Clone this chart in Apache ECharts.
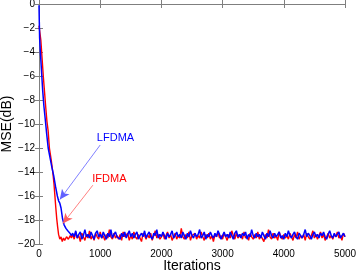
<!DOCTYPE html>
<html>
<head>
<meta charset="utf-8">
<script src="https://cdn.jsdelivr.net/npm/echarts@6/dist/echarts.min.js"></script>
<style>
  html, body { margin: 0; padding: 0; background: #fff; }
  #chart { width: 356px; height: 272px; }
</style>
</head>
<body>
<div id="chart"></div>
<script>
// IFDMA (red) - transient part
var ifdmaIter = [0, 15, 30, 50, 70, 90, 110, 130, 150, 170, 200, 225, 245, 260, 275, 290, 305, 320, 340, 360, 380, 400, 420, 450, 480, 510, 530];
var ifdmaMse = [-1.8, -1.9, -3.0, -4.5, -6.0, -7.3, -8.6, -9.8, -10.6, -12.0, -13.0, -14.0, -15.0, -16.0, -17.0, -17.9, -18.6, -19.2, -19.6, -19.4, -19.8, -19.5, -19.7, -19.4, -19.6, -19.3, -19.5];
// IFDMA steady state, every 25 iterations from 550 to 5000
var ifdmaFlat = [
  -19.2,-19.6,-19.0,-19.5,-19.3,-19.8,-19.1,-19.4,-19.7,-19.2,
  -19.5,-18.9,-19.6,-19.3,-19.7,-19.1,-19.4,-19.6,-19.0,-19.5,
  -19.3,-19.7,-19.2,-19.5,-18.8,-19.4,-19.6,-19.1,-19.5,-19.3,
  -19.6,-19.2,-19.7,-19.0,-19.4,-19.5,-19.1,-19.7,-19.3,-19.6,
  -19.0,-19.4,-19.6,-19.2,-19.5,-19.8,-19.1,-19.3,-19.6,-19.2,
  -19.5,-19.1,-19.7,-19.3,-18.9,-19.5,-19.2,-19.6,-19.4,-19.1,
  -19.6,-19.3,-19.0,-19.5,-19.2,-19.7,-19.4,-19.1,-19.6,-19.3,
  -19.5,-18.7,-19.4,-19.6,-19.2,-19.5,-19.0,-19.7,-19.3,-19.4,
  -19.1,-19.6,-19.3,-19.5,-19.0,-19.4,-19.7,-19.2,-19.5,-19.1,
  -19.6,-19.3,-19.8,-19.2,-19.4,-19.0,-19.5,-19.3,-19.6,-19.1,
  -19.4,-19.7,-19.2,-19.5,-18.9,-19.3,-19.6,-19.1,-19.5,-19.4,
  -19.2,-19.6,-19.0,-19.5,-19.3,-19.7,-19.1,-19.4,-19.6,-19.2,
  -19.5,-19.0,-19.6,-19.3,-19.4,-19.8,-19.2,-19.5,-18.8,-19.4,
  -19.6,-19.1,-19.5,-19.3,-19.7,-19.0,-19.4,-19.6,-19.2,-19.5,
  -19.3,-19.6,-19.1,-19.4,-19.7,-19.2,-19.5,-19.0,-19.6,-19.3,
  -19.5,-19.2,-19.7,-19.1,-19.4,-19.6,-19.3,-18.9,-19.5,-19.2,
  -19.6,-19.3,-19.0,-19.5,-19.2,-19.7,-19.4,-19.1,-19.5,-19.3,
  -19.6,-19.2,-19.4,-19.0,-19.5,-19.3,-19.7,-19.1,-19.4
];
// LFDMA (blue) - transient part
var lfdmaIter = [0, 5, 10, 20, 40, 60, 80, 100, 125, 150, 180, 210, 240, 270, 300, 320, 340, 360, 385, 410, 440, 470, 505, 530];
var lfdmaMse = [-0.1, -1.5, -2.8, -3.8, -5.5, -7.2, -8.5, -9.5, -10.8, -12.0, -12.8, -13.6, -14.3, -15.2, -16.0, -16.4, -16.6, -17.0, -17.9, -18.4, -18.7, -18.9, -19.1, -19.3];
var lfdmaFlat = [
  -19.1,-19.4,-18.9,-19.5,-19.2,-19.0,-19.6,-19.3,-18.8,-19.4,
  -19.2,-19.5,-19.0,-19.3,-19.6,-19.1,-18.9,-19.4,-19.2,-19.5,
  -19.0,-19.3,-19.6,-19.1,-19.4,-18.8,-19.5,-19.2,-19.0,-19.4,
  -19.3,-19.6,-19.1,-19.4,-19.0,-19.5,-19.2,-18.9,-19.4,-19.1,
  -19.5,-19.2,-19.0,-19.6,-19.3,-19.1,-19.4,-18.9,-19.5,-19.2,
  -19.0,-19.4,-19.6,-19.1,-19.3,-18.8,-19.5,-19.2,-19.4,-19.0,
  -19.3,-19.6,-19.1,-19.4,-19.2,-18.9,-19.5,-19.3,-19.0,-19.4,
  -19.2,-19.5,-19.0,-19.3,-19.6,-19.1,-19.4,-18.9,-19.3,-19.5,
  -19.1,-19.4,-19.2,-18.8,-19.5,-19.3,-19.0,-19.6,-19.2,-19.4,
  -19.0,-19.3,-19.5,-19.1,-19.4,-18.9,-19.2,-19.6,-19.3,-19.0,
  -19.4,-19.2,-19.5,-19.0,-19.3,-19.6,-19.1,-18.9,-19.4,-19.2,
  -19.5,-19.1,-19.3,-19.0,-19.6,-19.2,-19.4,-18.8,-19.3,-19.5,
  -19.1,-19.4,-19.2,-19.5,-19.0,-19.3,-19.6,-19.1,-19.4,-18.9,
  -19.3,-19.5,-19.1,-19.4,-19.2,-19.0,-19.5,-19.3,-19.6,-19.1,
  -19.4,-18.9,-19.3,-19.5,-19.2,-19.0,-19.4,-19.6,-19.1,-19.3,
  -19.5,-19.2,-18.8,-19.4,-19.1,-19.3,-19.6,-19.2,-19.0,-19.4,
  -19.2,-19.5,-19.1,-19.3,-19.0,-19.4,-19.6,-19.2,-18.9,-19.3,
  -19.5,-19.1,-19.4,-19.2,-19.0,-19.5,-19.3,-19.1,-19.4
];
var flatStart = 550, flatStep = 25;

// annotations: label position, arrow start, arrow tip
var lfdmaLabel = [1250, -11.2], lfdmaArrow = [[1000, -11.75], [340, -16.3]];
var ifdmaLabel = [1150, -14.6], ifdmaArrow = [[880, -15.1], [390, -18.3]];

function buildData(iters, vals, flat) {
  var out = [];
  for (var i = 0; i < iters.length; i++) out.push([iters[i], vals[i]]);
  for (var j = 0; j < flat.length; j++) out.push([flatStart + j * flatStep, flat[j]]);
  return out;
}

var chart = echarts.init(document.getElementById('chart'));
var axisGray = '#7f7f7f';
var font = 'Liberation Sans, Arial, sans-serif';

chart.setOption({
  animation: false,
  grid: { left: 39, right: 11, top: 4, bottom: 28, containLabel: false, outerBoundsMode: 'none' },
  xAxis: [{
    type: 'value', min: 0, max: 5000, interval: 1000,
    name: 'Iterations', nameLocation: 'middle', nameGap: 15, nameMoveOverlap: false,
    nameTextStyle: { fontSize: 14, color: '#000', fontFamily: font },
    axisLine: { lineStyle: { color: axisGray } },
    axisTick: { inside: true, length: 4, lineStyle: { color: axisGray } },
    axisLabel: { fontSize: 10, color: '#000', fontFamily: font, margin: 5,
      formatter: function (v) { return String(v); } },
    splitLine: { show: false }
  }, {
    type: 'value', min: 0, max: 5000, interval: 1000, position: 'top',
    axisLine: { lineStyle: { color: axisGray } },
    axisTick: { inside: true, length: 4, lineStyle: { color: axisGray } },
    axisLabel: { show: false }, splitLine: { show: false }
  }],
  yAxis: [{
    type: 'value', min: -20, max: 0, interval: 2,
    name: 'MSE(dB)', nameLocation: 'middle', nameGap: 25, nameMoveOverlap: false,
    nameTextStyle: { fontSize: 14, color: '#000', fontFamily: font },
    axisLine: { lineStyle: { color: axisGray } },
    axisTick: { inside: true, length: 4, lineStyle: { color: axisGray } },
    axisLabel: { fontSize: 10, color: '#000', fontFamily: font, margin: 4,
      formatter: function (v) { return v < 0 ? '\u2212' + Math.abs(v) : String(v); } },
    splitLine: { show: false }
  }, {
    type: 'value', min: -20, max: 0, interval: 2, position: 'right',
    axisLine: { show: true, lineStyle: { color: axisGray } },
    axisTick: { inside: true, length: 4, lineStyle: { color: axisGray } },
    axisLabel: { show: false }, splitLine: { show: false }
  }],
  series: [{
    name: 'IFDMA', type: 'line', showSymbol: false, symbol: 'none',
    data: buildData(ifdmaIter, ifdmaMse, ifdmaFlat),
    lineStyle: { color: '#ff0000', width: 1.4 },
    markLine: {
      silent: true, animation: false,
      lineStyle: { color: '#ff6060', width: 0.8, type: 'solid' },
      label: { show: false },
      data: [[{ coord: ifdmaArrow[0], symbol: 'none' }, { coord: ifdmaArrow[1], symbol: 'arrow', symbolSize: [7, 10] }]]
    },
    markPoint: {
      silent: true, symbol: 'circle', symbolSize: 0,
      label: { show: true, color: '#ff0000', fontSize: 11, fontFamily: font, formatter: 'IFDMA' },
      data: [{ coord: ifdmaLabel }]
    }
  }, {
    name: 'LFDMA', type: 'line', showSymbol: false, symbol: 'none',
    data: buildData(lfdmaIter, lfdmaMse, lfdmaFlat),
    lineStyle: { color: '#0000ff', width: 1.5 },
    markLine: {
      silent: true, animation: false,
      lineStyle: { color: '#6060ff', width: 0.8, type: 'solid' },
      label: { show: false },
      data: [[{ coord: lfdmaArrow[0], symbol: 'none' }, { coord: lfdmaArrow[1], symbol: 'arrow', symbolSize: [7, 10] }]]
    },
    markPoint: {
      silent: true, symbol: 'circle', symbolSize: 0,
      label: { show: true, color: '#0000ff', fontSize: 11, fontFamily: font, formatter: 'LFDMA' },
      data: [{ coord: lfdmaLabel }]
    }
  }]
});
</script>
</body>
</html>
